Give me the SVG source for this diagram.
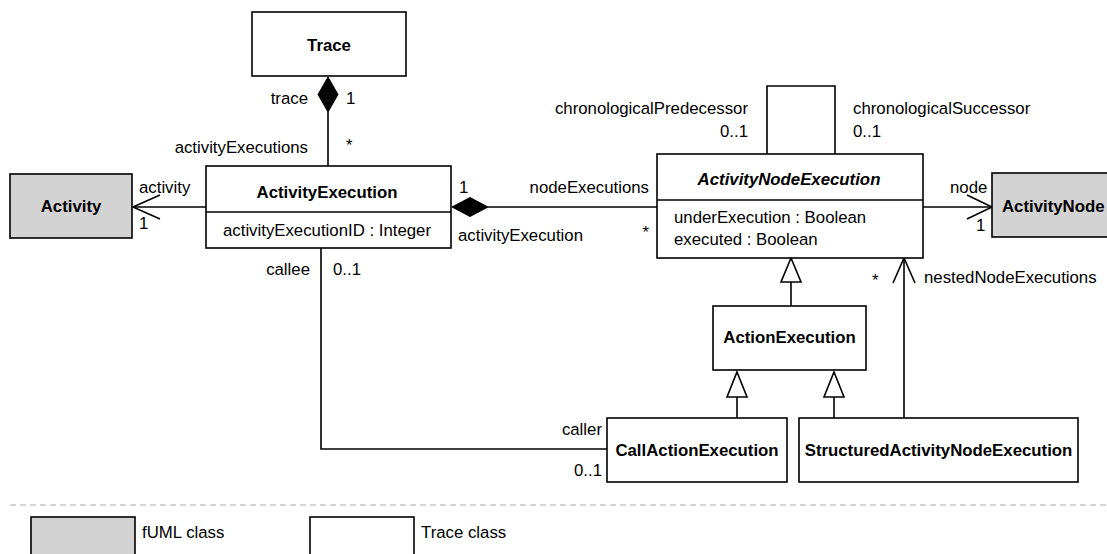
<svg xmlns="http://www.w3.org/2000/svg" width="1107" height="554" viewBox="0 0 1107 554">
<style>
text{font-family:"Liberation Sans",Arial,sans-serif;font-size:16.8px;fill:#000}
.t{font-weight:bold;text-anchor:middle}
.ti{font-weight:bold;font-style:italic;text-anchor:middle}
.e{text-anchor:end}
.box{fill:#fff;stroke:#000;stroke-width:1.6}
.fuml{fill:#d3d3d3;stroke:#000;stroke-width:1.6}
.ln{fill:none;stroke:#000;stroke-width:1.6}
.gen{fill:#fff;stroke:#000;stroke-width:1.6}
.dia{fill:#000;stroke:#000;stroke-width:1}
</style>
<rect width="1107" height="554" fill="#fff"/>
<g id="connectors">
  <!-- Trace composition -->
  <line class="ln" x1="328" y1="112" x2="328" y2="166"/>
  <polygon class="dia" points="328,77 338,94.5 328,112 318,94.5"/>
  <!-- Activity association -->
  <line class="ln" x1="206" y1="207" x2="133" y2="207"/>
  <polyline class="ln" points="160,195 133,207 160,219"/>
  <!-- nodeExecutions composition -->
  <line class="ln" x1="488" y1="207" x2="657" y2="207"/>
  <polygon class="dia" points="452,207 470,197.5 488,207 470,216.5"/>
  <!-- self association -->
  <polyline class="ln" points="767,154 767,86 835,86 835,154"/>
  <!-- node association -->
  <line class="ln" x1="923" y1="207" x2="992" y2="207"/>
  <polyline class="ln" points="967,195 992,207 967,219"/>
  <!-- callee/caller -->
  <polyline class="ln" points="321,248 321,449 607,449"/>
  <!-- nestedNodeExecutions -->
  <line class="ln" x1="904" y1="418" x2="904" y2="258"/>
  <polyline class="ln" points="893,283 904,258 915,283"/>
  <!-- generalizations -->
  <line class="ln" x1="791" y1="282" x2="791" y2="306"/>
  <polygon class="gen" points="791,258 801,282 781,282"/>
  <line class="ln" x1="737" y1="397" x2="737" y2="418"/>
  <polygon class="gen" points="737,372 747,397 727,397"/>
  <line class="ln" x1="834" y1="397" x2="834" y2="418"/>
  <polygon class="gen" points="834,372 844,397 824,397"/>
  <!-- labels -->
  <text class="e" x="308" y="104">trace</text>
  <text x="346" y="104">1</text>
  <text class="e" x="308" y="153">activityExecutions</text>
  <text x="346" y="151">*</text>
  <text x="139" y="193">activity</text>
  <text x="139" y="229">1</text>
  <text x="459" y="193">1</text>
  <text class="e" x="649" y="193">nodeExecutions</text>
  <text x="458" y="241">activityExecution</text>
  <text class="e" x="649" y="238">*</text>
  <text class="e" x="748" y="114">chronologicalPredecessor</text>
  <text class="e" x="748" y="137">0..1</text>
  <text x="853" y="114">chronologicalSuccessor</text>
  <text x="853" y="137">0..1</text>
  <text x="950" y="193">node</text>
  <text x="976" y="231">1</text>
  <text class="e" x="310" y="275">callee</text>
  <text x="333" y="275">0..1</text>
  <text class="e" x="602" y="435">caller</text>
  <text class="e" x="602" y="476">0..1</text>
  <text x="872" y="286">*</text>
  <text x="924" y="283">nestedNodeExecutions</text>
</g>
<g id="Trace">
  <rect class="box" x="252" y="12" width="154" height="64"/>
  <text class="t" x="329" y="51">Trace</text>
</g>
<g id="Activity">
  <rect class="fuml" x="10" y="174" width="122" height="64"/>
  <text class="t" x="71" y="212">Activity</text>
</g>
<g id="ActivityExecution">
  <rect class="box" x="206" y="166" width="245" height="82"/>
  <line class="ln" x1="206" y1="212" x2="451" y2="212"/>
  <text class="t" x="327" y="198">ActivityExecution</text>
  <text x="223" y="236">activityExecutionID : Integer</text>
</g>
<g id="ActivityNodeExecution">
  <rect class="box" x="657" y="154" width="266" height="104"/>
  <line class="ln" x1="657" y1="200" x2="923" y2="200"/>
  <text class="ti" x="789" y="185">ActivityNodeExecution</text>
  <text x="674" y="223">underExecution : Boolean</text>
  <text x="674" y="245">executed : Boolean</text>
</g>
<g id="ActivityNode">
  <rect class="fuml" x="992" y="173" width="130" height="64"/>
  <text x="1002" y="212" style="font-weight:bold">ActivityNode</text>
</g>
<g id="ActionExecution">
  <rect class="box" x="713" y="306" width="153" height="64"/>
  <text class="t" x="789.5" y="343">ActionExecution</text>
</g>
<g id="CallActionExecution">
  <rect class="box" x="607" y="418" width="180" height="64"/>
  <text class="t" x="697" y="456">CallActionExecution</text>
</g>
<g id="StructuredActivityNodeExecution">
  <rect class="box" x="799" y="418" width="279" height="64"/>
  <text class="t" x="938.5" y="456">StructuredActivityNodeExecution</text>
</g>
<g id="legend">
  <line x1="10" y1="505" x2="1107" y2="505" stroke="#aaa" stroke-width="1.2" stroke-dasharray="6 4"/>
  <rect class="fuml" x="31" y="517" width="104" height="50"/>
  <text x="142" y="538">fUML class</text>
  <rect class="box" x="310" y="517" width="104" height="50"/>
  <text x="421" y="538">Trace class</text>
</g>
</svg>
